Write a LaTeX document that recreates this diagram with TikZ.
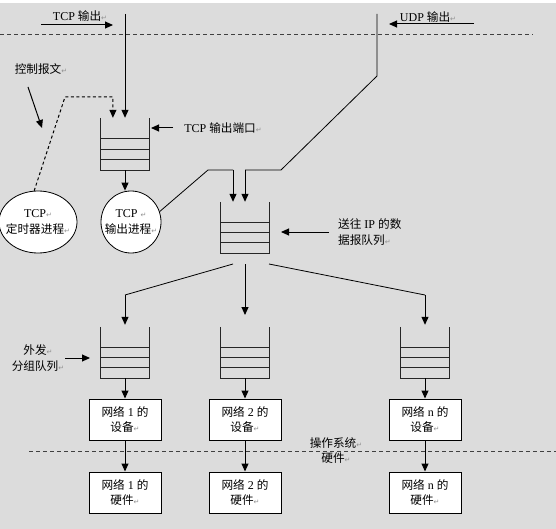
\documentclass[tikz,border=0pt]{standalone}
\usepackage{fontspec}
\setmainfont{Liberation Serif}
\newfontfamily\cjk[Scale=0.97]{Noto Sans CJK SC}
\newfontfamily\djv{DejaVu Sans}
\usetikzlibrary{arrows.meta,calc,shapes.geometric}
\definecolor{bggray}{HTML}{DCDCDC}
\definecolor{pmgray}{HTML}{909090}
\newcommand\zh[1]{{\cjk #1}}
\newcommand\parmk{{\djv\color{pmgray}\fontsize{7}{7}\selectfont ↵}}
\newcommand\drawqueue[1]{%
  \draw[qline] (#1.north west) -- (#1.south west) -- (#1.south east) -- (#1.north east);
  \draw[qline] ($(#1.north west)!0.4!(#1.south west)$) -- ($(#1.north east)!0.4!(#1.south east)$);
  \draw[qline] ($(#1.north west)!0.6!(#1.south west)$) -- ($(#1.north east)!0.6!(#1.south east)$);
  \draw[qline] ($(#1.north west)!0.8!(#1.south west)$) -- ($(#1.north east)!0.8!(#1.south east)$);
}
\begin{document}
\begin{tikzpicture}[x=1pt,y=-1pt,
  every node/.style={font=\fontsize{12}{15.5}\selectfont, inner sep=0pt},
  qline/.style={line width=1pt, draw=black!85},
  queue/.style={rectangle, draw=none, minimum width=48pt, minimum height=51pt},
  devbox/.style={rectangle, draw=black, line width=1pt, fill=white, minimum width=72pt, minimum height=41pt, align=center},
  proc/.style={ellipse, draw=black, line width=0.8pt, fill=white},
  arr/.style={line width=1pt, -{Triangle[length=8pt,width=7pt]}},
  conn/.style={line width=0.8pt},
  sep/.style={line width=1pt, draw=black!75, dash pattern=on 4pt off 3pt},
  lbl/.style={align=center}
]
\useasboundingbox (0,0) rectangle (556,529);
\fill[bggray] (0,0) rectangle (556,529);
\fill[white] (0,0) rectangle (556,3);

% separators
\draw[sep] (0,35) -- (533,35);
\draw[sep] (29,451) -- (556,451);

% queues
\node[queue, minimum height=52pt] (q1) at (125,144) {};
\node[queue] (qip) at (245,227.5) {};
\node[queue] (qa) at (125,352.5) {};
\node[queue] (qb) at (245,352.5) {};
\node[queue] (qn) at (425,352.5) {};
\drawqueue{q1}
\drawqueue{qip}
\drawqueue{qa}
\drawqueue{qb}
\drawqueue{qn}

% processes
\node[proc, minimum width=78pt, minimum height=62pt] (timer) at (38,222) {};
\node[lbl] (timertxt) at (timer.center) {TCP\parmk\\\zh{定时器进程}\parmk};
\node[proc, minimum width=60pt, minimum height=62pt] (outp) at (131,222) {};
\node[lbl] (outptxt) at (outp.center) {TCP \parmk\\\zh{输出进程}\parmk};

% devices and hardware
\node[devbox] (da) at (125,419.5) {\zh{网络} 1 \zh{的}\\ \zh{设备}\parmk};
\node[devbox] (db) at (245,419.5) {\zh{网络} 2 \zh{的}\\ \zh{设备}\parmk};
\node[devbox] (dn) at (425,419.5) {\zh{网络} n \zh{的}\\ \zh{设备}\parmk};
\node[devbox] (ha) at (125,492.5) {\zh{网络} 1 \zh{的}\\ \zh{硬件}\parmk};
\node[devbox] (hb) at (245,492.5) {\zh{网络} 2 \zh{的}\\ \zh{硬件}\parmk};
\node[devbox] (hn) at (425,492.5) {\zh{网络} n \zh{的}\\ \zh{硬件}\parmk};

% labels
\node[lbl] (ltcp) at (80,16) {TCP \zh{输出}\parmk};
\node[lbl] (ludp) at (428,17) {UDP \zh{输出}\parmk};
\node[lbl] (lctl) at (41,69) {\zh{控制报文}\parmk};
\node[lbl] (lport) at (223,128) {TCP \zh{输出端口}\parmk};
\node[align=left, anchor=west] (lip) at (338,232) {\zh{送往} IP \zh{的数}\\\zh{据报队列}\parmk};
\node[lbl] (lout) at (38,358) {\zh{外发}\parmk\\\zh{分组队列}\parmk};
\node[lbl] (los) at (336,450.5) {\zh{操作系统}\parmk\\\zh{硬件}\parmk};

% free-end coordinates
\coordinate (tcpa1) at (41,25);
\coordinate (tcpa2) at (113,25);
\coordinate (tcptop) at (125,14);
\coordinate (udpa1) at (474,24);
\coordinate (udpa2) at (389,24);
\coordinate (udptop) at (377,14);
\coordinate (udpbend) at (377,76);
\coordinate (udpdiag) at (281,170);
\coordinate (udph) at (245,170);
\coordinate (procdiag) at (208,170);
\coordinate (proch) at (233,170);
\coordinate (ctla1) at (28,87);
\coordinate (ctla2) at (42,128);
\coordinate (dash1) at (65,97);
\coordinate (dash2) at (113,97);
\coordinate (porta1) at (173,128);
\coordinate (porta2) at (151,128);
\coordinate (ipa1) at (329,232);
\coordinate (ipa2) at (281,232);
\coordinate (outa1) at (65,358);
\coordinate (outa2) at (90,358);
\coordinate (sl) at (233,264);
\coordinate (sm) at (245,264);
\coordinate (sr) at (269,264);
\coordinate (bl) at (125,295);
\coordinate (br) at (425,295);
\coordinate (mtip) at (245,315);

% top arrows
\draw[arr] (tcpa1) -- (tcpa2);
\draw[arr] (udpa1) -- (udpa2);
\draw[arr] (tcptop) -- (q1.north);
\draw[arr, dash pattern=on 3pt off 2.5pt] (timer.97) -- (dash1) -- (dash2) -- ($(q1.north west)!0.25!(q1.north east)$);
\draw[arr] (ctla1) -- (ctla2);
\draw[arr] (porta1) -- (porta2);
\draw[arr] (q1.south) -- (q1.south |- outp.north);

% into IP queue
\draw[conn] (outp.20) -- (procdiag) -- (proch);
\draw[arr] (proch) -- (proch |- qip.north);
\draw[conn] (udptop) -- (udpbend) -- (udpdiag) -- (udph);
\draw[arr] (udph) -- (udph |- qip.north);
\draw[arr] (ipa1) -- (ipa2);

% distribution
\draw[conn] (sl) -- (bl);
\draw[arr] (bl) -- ($(qa.north)+(0,-2)$);
\draw[arr] (sm) -- (mtip);
\draw[conn] (sr) -- (br);
\draw[arr] (br) -- ($(qn.north)+(0,-2)$);
\draw[arr] (outa1) -- (outa2);

% down to devices and hardware
\draw[arr] (qa.south) -- (da.north);
\draw[arr] (qb.south) -- (db.north);
\draw[arr] (qn.south) -- (dn.north);
\draw[arr] (da.south) -- (ha.north);
\draw[arr] (db.south) -- (hb.north);
\draw[arr] (dn.south) -- (hn.north);
\end{tikzpicture}
\end{document}
